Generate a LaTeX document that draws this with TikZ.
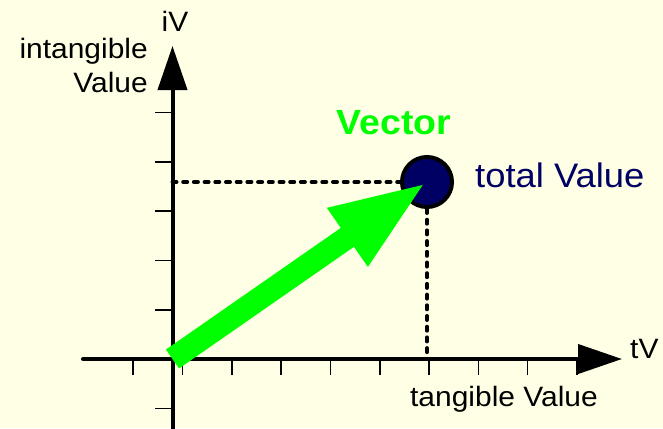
\documentclass[tikz,border=0pt]{standalone}
\usepackage{fontspec}
\setmainfont[FakeStretch=1.07]{Liberation Sans}
\usetikzlibrary{arrows.meta}
\definecolor{bgcream}{RGB}{255,255,230}
\definecolor{navyv}{RGB}{0,0,100}
\definecolor{vgreen}{RGB}{0,255,0}
\tikzset{
  axisline/.style={line width=4pt, line cap=round, -{Triangle[length=44pt,width=29pt]}},
  tickline/.style={line width=1.6pt},
  dashline/.style={line width=4pt, line cap=round, dash pattern=on 4pt off 6.7pt},
  lab/.style={inner sep=0pt, font=\fontsize{28}{32}\selectfont},
  biglab/.style={inner sep=0pt, font=\fontsize{34}{38}\selectfont},
  valdot/.style={circle, draw=black, line width=4pt, fill=navyv, minimum size=50pt, inner sep=0pt},
  vecarrow/.style={draw=vgreen, line width=23pt, -{Triangle[length=97pt,width=64pt]}}
}
\begin{document}
\begin{tikzpicture}[x=1pt,y=-1pt]
\fill[bgcream] (0,0) rectangle (663,428);
\useasboundingbox (0,0) rectangle (663,428);
% axes
\coordinate (o) at (172.5,359);
\coordinate (xs) at (83,359);
\coordinate (xe) at (622,359);
\coordinate (ys) at (172.5,432);
\coordinate (ye) at (172.5,46);
% ticks
\foreach \k in {-1,...,8}
  \draw[tickline] (182.5+49.3*\k,359) -- ++(0,16);
\foreach \k in {-1,1,2,3,4,5}
  \draw[tickline] (155,359-49.3*\k) -- ++(17.5,0);
\draw[axisline] (xs) -- (xe);
\draw[axisline] (ys) -- (ye);
% value point
\node[valdot] (tv) at (427,182) {};
\draw[dashline] (o |- tv) -- (tv.west);
\draw[dashline] (tv.south) -- (tv |- o);
% vector
\draw[vecarrow] (o) -- (tv.center);
% labels
\node[lab, anchor=base] (iv) at (175,32) {iV};
\node[lab, anchor=base east] (il1) at (148,59) {intangible};
\node[lab, anchor=base east] (il2) at (148,92) {Value};
\node[biglab, anchor=base, text=vgreen, font=\fontsize{35}{38}\selectfont\bfseries] (vec) at (394,134) {Vector};
\node[biglab, anchor=base west, text=navyv] (tvl) at (475,187) {total Value};
\node[lab, anchor=base west] (tvx) at (630,358) {tV};
\node[lab, anchor=base] (tgl) at (504,406) {tangible Value};
\end{tikzpicture}
\end{document}
